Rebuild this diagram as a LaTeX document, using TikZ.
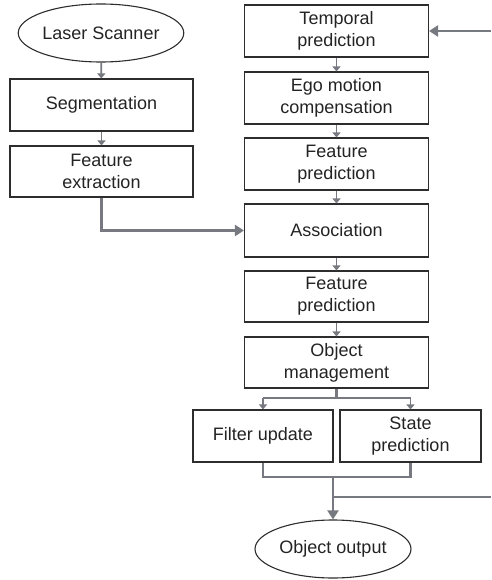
\documentclass[tikz,border=0pt]{standalone}
\usepackage{fontspec}
\setmainfont{Liberation Sans}
\usetikzlibrary{shapes.geometric,arrows.meta}
\definecolor{linegray}{RGB}{118,122,128}
\definecolor{boxedge}{RGB}{45,45,45}
\definecolor{inktext}{RGB}{35,35,35}
\begin{document}
\begin{tikzpicture}[x=1pt,y=-1pt,
  label font/.style={font=\fontsize{18}{22}\selectfont,text=inktext},
  box/.style={draw=boxedge,line width=1.1pt,rectangle,inner sep=0pt,align=center,label font},
  oval/.style={draw=boxedge,line width=1.1pt,ellipse,inner sep=0pt,minimum width=155pt,minimum height=58pt,label font},
  wide/.style={box,minimum width=184pt,minimum height=52pt},
  narrow/.style={box,minimum width=140pt,minimum height=52pt},
  link/.style={draw=linegray,line width=1.9pt,-{Triangle[length=5pt,width=8pt]}},
  flow/.style={draw=linegray,line width=2.8pt},
  flowarrow/.style={flow,-{Triangle[length=9pt,width=11pt]}}
]
\useasboundingbox (0,0) rectangle (491,580);

% left column: sensor input
\node[oval] (ls) at (101,33) {Laser Scanner};
\node[wide,minimum width=183pt] (seg) at (101.5,105) {Segmentation};
\node[wide,minimum width=183pt,minimum height=51pt] (fe) at (101.5,171.5) {Feature\\extraction};

% right column: tracking loop
\node[wide] (tp) at (336.5,31) {Temporal\\prediction};
\node[wide] (ego) at (336.5,98) {Ego motion\\compensation};
\node[wide] (fp1) at (336.5,164) {Feature\\prediction};
\node[wide,minimum height=53pt] (assoc) at (336.5,230.5) {Association};
\node[wide,minimum height=51pt] (fp2) at (336.5,296.5) {Feature\\prediction};
\node[wide,minimum height=51pt] (om) at (336.5,362.5) {Object\\management};
\node[narrow] (fu) at (263,436) {Filter update};
\node[narrow,minimum width=141pt] (sp) at (410.5,436) {State\\prediction};
\node[oval,minimum width=156pt] (oo) at (333,549) {Object output};

% junction points and loop ends at the border
\coordinate (split) at (336.5,398);
\coordinate (join) at (333,477);
\coordinate (fbout) at (491,497);
\coordinate (fbin) at (491,31);

% short links between steps
\draw[link] (ls) -- (seg);
\draw[link] (seg) -- (fe);
\draw[link] (tp) -- (ego);
\draw[link] (ego) -- (fp1);
\draw[link] (fp1) -- (assoc);
\draw[link] (assoc) -- (fp2);
\draw[link] (fp2) -- (om);

% measurements into association
\draw[flowarrow] (fe.south) |- (assoc.west);

% branch after object management
\draw[flow] (om.south) -- (split);
\draw[flow] (split -| fu.north) -- (split -| sp.north);
\draw[link] (split -| fu.north) -- (fu.north);
\draw[link] (split -| sp.north) -- (sp.north);

% merge of both branches
\draw[flow] (fu.south) |- (join) -| (sp.south);
\draw[flowarrow] (join) -- (oo.north);

% feedback loop to temporal prediction
\draw[flow] (join |- fbout) -- (fbout);
\draw[flowarrow] (fbin) -- (tp.east);
\end{tikzpicture}
\end{document}
